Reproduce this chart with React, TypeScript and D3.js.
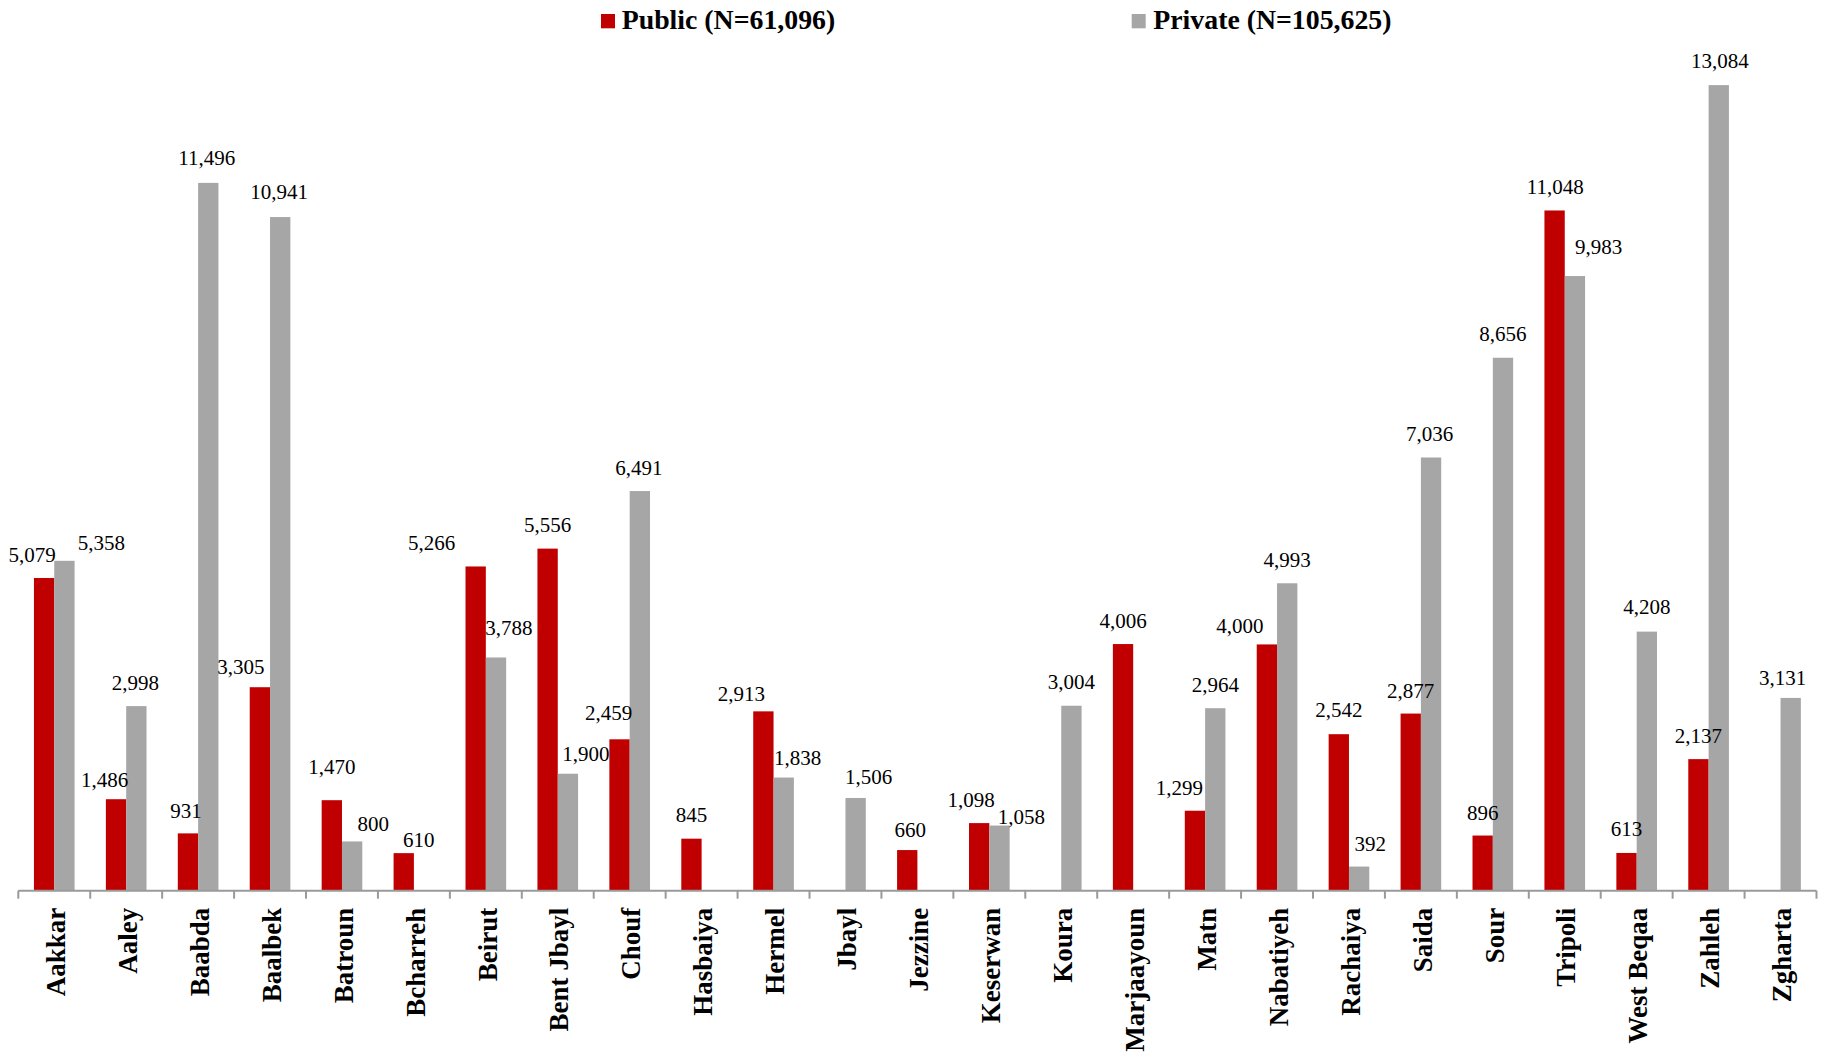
import React from "react";
import * as d3 from "d3";

const categories = [
  "Aakkar", "Aaley", "Baabda", "Baalbek", "Batroun", "Bcharreh", "Beirut",
  "Bent Jbayl", "Chouf", "Hasbaiya", "Hermel", "Jbayl", "Jezzine", "Keserwan",
  "Koura", "Marjaayoun", "Matn", "Nabatiyeh", "Rachaiya", "Saida", "Sour",
  "Tripoli", "West Beqaa", "Zahleh", "Zgharta",
];

const publicValues: (number | null)[] = [
  5079, 1486, 931, 3305, 1470, 610, 5266, 5556, 2459, 845, 2913, null, 660,
  1098, null, 4006, 1299, 4000, 2542, 2877, 896, 11048, 613, 2137, null,
];

const privateValues: (number | null)[] = [
  5358, 2998, 11496, 10941, 800, null, 3788, 1900, 6491, null, 1838, 1506, null,
  1058, 3004, null, 2964, 4993, 392, 7036, 8656, 9983, 4208, 13084, 3131,
];

const seriesNames = ["Public (N=61,096)", "Private (N=105,625)"];

// label nudges (dx, dy) relative to the default "outside end" placement
const publicLabelNudge: [number, number][] = [
  [-12, 1], [-11.5, 4], [-2, 1.5], [-19, 3.5], [0, -9.5], [15, 10], [-44, 0],
  [0, 0], [-11, -2.5], [0, 0], [-22, 6], [0, 0], [3, 3], [-8, 0], [0, 0],
  [0, 0.5], [-15.5, 1], [-27, 5.5], [0, -1], [0, 1], [0, 1], [0.7, 0], [0, 0],
  [0, 0], [0, 0],
];
const privateLabelNudge: [number, number][] = [
  [37, 5.5], [-1, 0.5], [-1.5, -1.5], [-1, -2], [21, 6.5], [0, 0], [13, -6],
  [18, 4], [-1, 0], [0, 0], [14, 4], [13, 3], [0, 0], [22, 15], [0, 0], [0, 0],
  [0, 0], [0, 0], [11, 1], [-1.5, 0], [0, 0], [23.6, -6], [0, -1], [1, -1],
  [-8, 3.5],
];

const W = 1826;
const H = 1053;
const axisY = 890.7;
const left = 18.3;
const right = 1816.5;
const RED = "#C00000";
const GRAY = "#A6A6A6";
const AXIS = "#9A9A9A";
const serif = "'Liberation Serif', 'Times New Roman', serif";

export default function App() {
  const x = d3.scaleBand<string>().domain(categories).range([left, right]).padding(0);
  const sub = d3
    .scaleBand<string>()
    .domain(["public", "private"])
    .range([0, x.bandwidth()])
    .paddingInner(0)
    .paddingOuter(0.77);
  const y = d3.scaleLinear().domain([0, 14000]).range([axisY, axisY - 14000 * 0.06157]);
  const fmt = d3.format(",");
  const gap = 16.5;

  const series = [
    { key: "public", values: publicValues, color: RED, nudge: publicLabelNudge },
    { key: "private", values: privateValues, color: GRAY, nudge: privateLabelNudge },
  ];

  return (
    <svg
      width={W}
      height={H}
      style={{ position: "absolute", left: 0, top: 0, background: "#fff" }}
    >
      <rect x={0} y={0} width={W} height={H} fill="#fff" />
      {/* bars */}
      {series.map((s) =>
        s.values.map((v, i) =>
          v == null ? null : (
            <rect
              key={s.key + i}
              x={(x(categories[i]) as number) + (sub(s.key) as number)}
              y={y(v)}
              width={sub.bandwidth()}
              height={axisY - y(v)}
              fill={s.color}
            />
          )
        )
      )}
      {/* labels */}
      {series.map((s) =>
        s.values.map((v, i) =>
          v == null ? null : (
            <text
              key={"l" + s.key + i}
              x={(x(categories[i]) as number) + (sub(s.key) as number) + sub.bandwidth() / 2 + s.nudge[i][0]}
              y={y(v) - gap + s.nudge[i][1]}
              textAnchor="middle"
              fontFamily={serif}
              fontSize={21}
              fill="#000"
            >
              {fmt(v)}
            </text>
          )
        )
      )}
      {/* axis */}
      <line x1={left} x2={right} y1={axisY} y2={axisY} stroke={AXIS} strokeWidth={2} />
      {categories.map((c, i) => (
        <line
          key={"t" + i}
          x1={x(c) as number}
          x2={x(c) as number}
          y1={axisY}
          y2={axisY + 8}
          stroke={AXIS}
          strokeWidth={2}
        />
      ))}
      <line x1={right} x2={right} y1={axisY} y2={axisY + 8} stroke={AXIS} strokeWidth={2} />
      {categories.map((c, i) => {
        const cx = (x(c) as number) + x.bandwidth() / 2;
        const ty = axisY + 17;
        return (
          <text
            key={"c" + i}
            transform={`translate(${cx + 1},${ty}) rotate(-90)`}
            textAnchor="end"
            dy="0.36em"
            fontFamily={serif}
            fontWeight="bold"
            fontSize={27}
            fill="#000"
          >
            {c}
          </text>
        );
      })}
      {/* legend */}
      <rect x={601} y={14} width={14} height={14.3} fill={RED} />
      <text
        x={621.7}
        y={29.4}
        fontFamily={serif}
        fontWeight="bold"
        fontSize={27.8}
        fill="#000"
      >
        {seriesNames[0]}
      </text>
      <rect x={1131.7} y={14} width={14} height={14.3} fill={GRAY} />
      <text
        x={1153.3}
        y={29.4}
        fontFamily={serif}
        fontWeight="bold"
        fontSize={27.8}
        fill="#000"
      >
        {seriesNames[1]}
      </text>
    </svg>
  );
}
